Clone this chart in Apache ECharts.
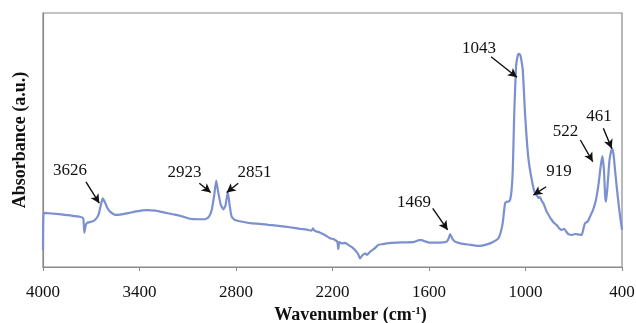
<!DOCTYPE html>
<html>
<head>
<meta charset="utf-8">
<script src="https://cdn.jsdelivr.net/npm/echarts@6/dist/echarts.min.js"></script>
<style>
  html, body { margin: 0; padding: 0; background: #fff; }
  #chart { width: 636px; height: 323px; }
</style>
</head>
<body>
<div id="chart"></div>
<script>
// FTIR spectrum: wavenumber (cm-1) and absorbance (arbitrary units)
const wavenumber = [
  4000, 3996, 3900, 3830, 3770, 3750, 3743, 3736, 3728, 3700, 3677, 3655, 3640, 3629, 3615, 3600, 3583, 3560, 3542,
  3479, 3420, 3355, 3300, 3250, 3180, 3117, 3086, 3040, 2993, 2970, 2951, 2935, 2923, 2912, 2895, 2879, 2866, 2851,
  2840, 2827, 2806, 2760, 2700, 2650, 2600, 2550, 2495, 2440, 2400, 2360, 2330, 2322, 2310, 2280, 2247, 2216,
  2195, 2184, 2170, 2164, 2158, 2143, 2120, 2102, 2080, 2060, 2040, 2029, 2015, 1998, 1985, 1966, 1940, 1915,
  1890, 1863, 1800, 1739, 1690, 1660, 1645, 1625, 1595, 1550, 1511, 1490, 1478, 1469, 1455, 1438, 1410, 1387,
  1340, 1300, 1283, 1250, 1221, 1190, 1169, 1155, 1142, 1127, 1117, 1105, 1096, 1087, 1079, 1070, 1059, 1050,
  1043, 1036, 1030, 1017, 1003, 983, 961, 941, 925, 919, 910, 900, 889, 868, 850, 837, 820, 806, 790, 775,
  760, 745, 734, 712, 692, 670, 650, 640, 630, 612, 599, 580, 562, 545, 532, 522, 512, 505, 499, 490, 478,
  468, 461, 452, 443, 433, 418, 400
];
const absorbance = [
  0.067, 0.213, 0.208, 0.203, 0.198, 0.192, 0.135, 0.160, 0.173, 0.178, 0.185, 0.205, 0.245, 0.270, 0.255, 0.232, 0.218, 0.208, 0.205,
  0.211, 0.219, 0.224, 0.222, 0.215, 0.206, 0.196, 0.190, 0.188, 0.188, 0.196, 0.224, 0.285, 0.340, 0.300, 0.245, 0.227, 0.240, 0.296,
  0.245, 0.198, 0.185, 0.178, 0.172, 0.170, 0.166, 0.163, 0.159, 0.154, 0.150, 0.147, 0.143, 0.152, 0.142, 0.136, 0.126, 0.113,
  0.110, 0.106, 0.100, 0.070, 0.098, 0.093, 0.095, 0.087, 0.078, 0.067, 0.050, 0.034, 0.045, 0.054, 0.048, 0.060, 0.072, 0.087,
  0.090, 0.093, 0.096, 0.097, 0.099, 0.106, 0.106, 0.101, 0.096, 0.096, 0.097, 0.100, 0.112, 0.130, 0.112, 0.100, 0.094, 0.091,
  0.087, 0.083, 0.083, 0.087, 0.093, 0.103, 0.113, 0.135, 0.172, 0.251, 0.257, 0.258, 0.264, 0.300, 0.382, 0.605, 0.789, 0.828,
  0.839, 0.838, 0.829, 0.776, 0.605, 0.434, 0.343, 0.290, 0.278, 0.272, 0.275, 0.262, 0.251, 0.218, 0.198, 0.185, 0.172, 0.165, 0.152, 0.146,
  0.150, 0.138, 0.130, 0.126, 0.130, 0.128, 0.126, 0.150, 0.172, 0.180, 0.198, 0.225, 0.264, 0.330, 0.400, 0.437, 0.380, 0.280, 0.257, 0.320, 0.420,
  0.455, 0.467, 0.440, 0.380, 0.316, 0.230, 0.146
];

// Peak annotations: label, text anchor, arrow tail, arrow tip (data units)
const peakLabels = ['3626', '2923', '2851', '1469', '1043', '919', '522', '461'];
const labelAt = [[3832, 0.378], [3120, 0.372], [2685, 0.372], [1693, 0.252], [1289, 0.862], [792, 0.375], [751, 0.535], [543, 0.593]];
const arrowFrom = [[3733, 0.335], [3028, 0.330], [2786, 0.330], [1577, 0.231], [1214, 0.828], [872, 0.316], [659, 0.500], [516, 0.546]];
const arrowTo = [[3650, 0.251], [2957, 0.293], [2858, 0.293], [1484, 0.146], [1053, 0.747], [951, 0.283], [582, 0.415], [464, 0.467]];

const xTicks = [4000, 3400, 2800, 2200, 1600, 1000, 400];

const serif = '"Liberation Serif", "Times New Roman", serif';
const spectrum = wavenumber.map((w, i) => [w, absorbance[i]]);

const chart = echarts.init(document.getElementById('chart'), null, { renderer: 'canvas' });
chart.setOption({
  animation: false,
  backgroundColor: '#fff',
  grid: {
    left: 43, right: 14, top: 13, bottom: 56,
    outerBoundsMode: 'none',
    containLabel: false,
    show: true, borderColor: '#8a8a8a', borderWidth: 1.2, backgroundColor: 'transparent'
  },
  xAxis: {
    type: 'value',
    inverse: true,
    min: 400,
    max: 4000,
    name: '{t|Wavenumber (cm}{s|-1}{t|)}',
    nameLocation: 'middle',
    nameGap: 39,
    nameTextStyle: {
      padding: [0, 0, 0, 36],
      rich: {
        t: { fontFamily: serif, fontWeight: 'bold', fontSize: 18, color: '#111' },
        s: { fontFamily: serif, fontWeight: 'bold', fontSize: 11, color: '#111', verticalAlign: 'top', padding: [0, 0, 8, 0] }
      }
    },
    axisLine: { show: true, lineStyle: { color: '#8a8a8a', width: 1.2 } },
    axisTick: { show: true, inside: false, length: 4, customValues: xTicks, lineStyle: { color: '#8a8a8a' } },
    axisLabel: {
      customValues: xTicks, margin: 17, fontFamily: serif, fontSize: 17, color: '#111',
      formatter: v => String(v)
    },
    splitLine: { show: false }
  },
  yAxis: {
    type: 'value',
    min: 0,
    max: 1,
    name: 'Absorbance (a.u.)',
    nameLocation: 'middle',
    nameGap: 14,
    nameTextStyle: { fontFamily: serif, fontWeight: 'bold', fontSize: 18, color: '#111' },
    axisLine: { show: true, lineStyle: { color: '#8a8a8a', width: 1.2 } },
    axisTick: { show: false },
    axisLabel: { show: false },
    splitLine: { show: false }
  },
  series: [{
    type: 'line',
    data: spectrum,
    symbol: 'none',
    smooth: 0.15,
    lineStyle: { color: '#7b90cf', width: 2.2 },
    markLine: {
      silent: true,
      animation: false,
      label: { show: false },
      lineStyle: { color: '#111', width: 1.4, type: 'solid' },
      data: peakLabels.map((_, i) => [
        { coord: arrowFrom[i], symbol: 'none' },
        { coord: arrowTo[i], symbol: 'arrow', symbolSize: [7, 9] }
      ])
    },
    markPoint: {
      silent: true,
      animation: false,
      symbol: 'circle',
      symbolSize: 1,
      itemStyle: { color: 'rgba(0,0,0,0)' },
      label: {
        show: true,
        position: 'inside',
        fontFamily: serif,
        fontSize: 17,
        color: '#111',
        formatter: p => p.name
      },
      data: peakLabels.map((t, i) => ({ name: t, coord: labelAt[i] }))
    }
  }]
});
</script>
</body>
</html>
